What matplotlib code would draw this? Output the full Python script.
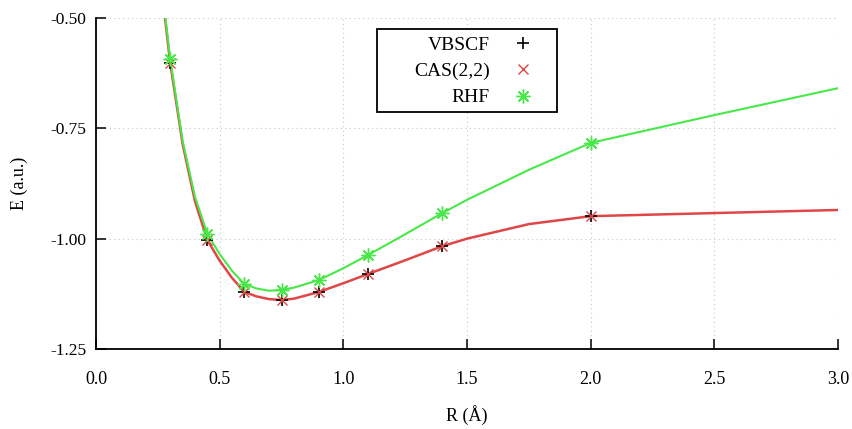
import matplotlib
matplotlib.use("Agg")
import matplotlib.pyplot as plt
from matplotlib.patches import Rectangle

plt.rcParams['font.family'] = ['Liberation Serif', 'DejaVu Serif']

# computed points
r_pts = [0.3, 0.45, 0.6, 0.75, 0.9, 1.1, 1.4, 2.0]
e_vbscf = [-0.602, -1.003, -1.121, -1.139, -1.121, -1.080, -1.017, -0.949]
e_cas = [-0.602, -1.003, -1.121, -1.139, -1.121, -1.080, -1.017, -0.949]
e_rhf = [-0.593, -0.989, -1.103, -1.116, -1.094, -1.037, -0.942, -0.783]

# fitted curves
r_fit = [0.25, 0.3, 0.35, 0.4, 0.45, 0.5, 0.55, 0.6, 0.65, 0.7, 0.75, 0.8,
         0.9, 1.0, 1.1, 1.25, 1.4, 1.5, 1.75, 2.0, 2.5, 3.0]
e_cas_fit = [-0.36, -0.602, -0.785, -0.915, -1.003, -1.050, -1.089, -1.121,
             -1.131, -1.137, -1.139, -1.136, -1.121, -1.101, -1.080, -1.049,
             -1.017, -1.000, -0.967, -0.949, -0.942, -0.935]
e_rhf_fit = [-0.35, -0.593, -0.778, -0.905, -0.989, -1.035, -1.073, -1.103,
             -1.113, -1.118, -1.116, -1.111, -1.094, -1.067, -1.037, -0.990,
             -0.942, -0.912, -0.844, -0.783, -0.720, -0.659]

red = '#e04646'
green = '#48e848'

fig = plt.figure(figsize=(8.52, 4.29), dpi=100)
ax = fig.add_axes([0.1127, 0.1865, 0.8709, 0.7715])

ax.plot(r_fit, e_cas_fit, color=red, lw=1.8, zorder=3)
ax.plot(r_fit, e_rhf_fit, color=green, lw=1.5, zorder=4)

ax.plot(r_pts, e_vbscf, ls='none', marker='+', ms=9, mew=1.2, color='black',
        label='VBSCF', zorder=5)
ax.plot(r_pts, e_cas, ls='none', marker='x', ms=7, mew=1.0, color=red,
        label='CAS(2,2)', zorder=6)
ax.plot(r_pts, e_rhf, ls='none', marker=(8, 2, 0), ms=10, mew=1.0, color=green,
        label='RHF', zorder=7)

ax.set_xlim(0, 3)
ax.set_ylim(-1.25, -0.5)
ax.set_xticks([0, 0.5, 1.0, 1.5, 2.0, 2.5, 3.0])
ax.set_xticklabels(['0.0', '0.5', '1.0', '1.5', '2.0', '2.5', '3.0'])
ax.set_yticks([-1.25, -1.0, -0.75, -0.5])
ax.set_yticklabels(['-1.25', '-1.00', '-0.75', '-0.50'])

ax.spines['top'].set_visible(False)
ax.spines['right'].set_visible(False)
ax.spines['left'].set_linewidth(1.3)
ax.spines['bottom'].set_linewidth(1.3)
ax.tick_params(axis='x', direction='in', length=7, width=1.1, pad=16, labelsize=13)
ax.tick_params(axis='y', direction='in', length=7, width=1.1, pad=7, labelsize=12.5)
ax.grid(True, color='#c8c8c8', ls=(0, (1, 3)), lw=0.8)
ax.set_axisbelow(True)

ax.set_xlabel('R (Å)', fontsize=13, labelpad=12)
ax.set_ylabel('E (a.u.)', fontsize=13, labelpad=16)

# legend box drawn separately (gnuplot style: wide left margin)
ax.add_patch(Rectangle((0.379, 0.716), 0.242, 0.251, transform=ax.transAxes,
                       facecolor='white', edgecolor='black', lw=1.3, zorder=8))
leg = ax.legend(loc='upper right', bbox_to_anchor=(0.621, 0.99), markerfirst=False,
                fontsize=14, frameon=False, handlelength=2.0,
                handletextpad=0.7, borderpad=0.75, labelspacing=0.45,
                borderaxespad=0)
leg.set_zorder(9)

fig.savefig('out.png', dpi=100)
